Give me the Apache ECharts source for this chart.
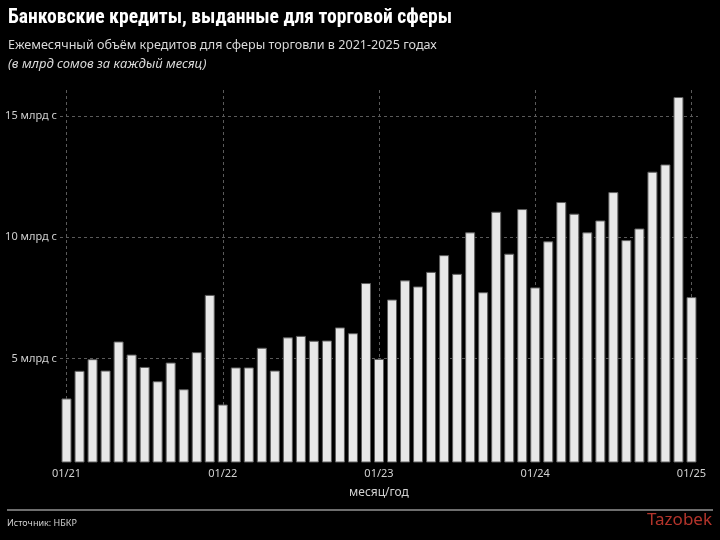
<!DOCTYPE html>
<html>
<head>
<meta charset="utf-8">
<script src="https://cdn.jsdelivr.net/npm/echarts@6/dist/echarts.min.js"></script>
<style>
  html, body { margin: 0; padding: 0; background: #000; }
  #main { width: 720px; height: 540px; }
</style>
</head>
<body>
<div id="main"></div>
<script>
// months, 01/21 .. 01/25
let months = [
  '01/21','02/21','03/21','04/21','05/21','06/21','07/21','08/21','09/21','10/21','11/21','12/21',
  '01/22','02/22','03/22','04/22','05/22','06/22','07/22','08/22','09/22','10/22','11/22','12/22',
  '01/23','02/23','03/23','04/23','05/23','06/23','07/23','08/23','09/23','10/23','11/23','12/23',
  '01/24','02/24','03/24','04/24','05/24','06/24','07/24','08/24','09/24','10/24','11/24','12/24',
  '01/25'
];

// loans, bln som per month
let loans = [
  3.35, 4.49, 4.97, 4.50, 5.70, 5.16, 4.65, 4.06, 4.83, 3.73, 5.26, 7.62,
  3.10, 4.63, 4.63, 5.44, 4.50, 5.87, 5.93, 5.73, 5.74, 6.28, 6.04, 8.11,
  4.98, 7.43, 8.22, 7.97, 8.57, 9.26, 8.49, 10.20, 7.73, 11.05, 9.32, 11.16,
  7.93, 9.83, 11.45, 10.97, 10.20, 10.69, 11.86, 9.88, 10.36, 12.70, 13.00, 15.78,
  7.53
];

let yTicks = [5, 10, 15];

let myChart = echarts.init(document.getElementById('main'));

let option = {
  backgroundColor: '#000',
  animation: false,
  graphic: [
    { type: 'text', left: 8, top: 8,
      style: { text: 'Банковские кредиты, выданные для торговой сферы', fill: '#fff',
        font: 'bold 19.6px "Liberation Sans Narrow", "Roboto Condensed", Roboto, sans-serif' } },
    { type: 'text', left: 8, top: 39,
      style: { text: 'Ежемесячный объём кредитов для сферы торговли в 2021-2025 годах', fill: '#d9d9d9',
        font: '12.6px "Noto Sans", sans-serif' } },
    { type: 'text', left: 8, top: 58,
      style: { text: '(в млрд сомов за каждый месяц)', fill: '#d9d9d9',
        font: 'italic 13px "Noto Sans", sans-serif' } },
    { type: 'rect', left: 7, top: 509, shape: { width: 706, height: 2 },
      style: { fill: '#6e6e6e' } },
    { type: 'text', left: 7, top: 519,
      style: { text: 'Источник: НБКР', fill: '#d0d0d0', font: '9px "Noto Sans", sans-serif' } },
    { type: 'text', right: 8, top: 512,
      style: { text: 'Tazobek', fill: '#b3342b', font: '17px "Noto Sans", sans-serif' } }
  ],
  grid: { left: 60, right: 22, top: 90, bottom: 78 },
  xAxis: {
    type: 'category',
    data: months,
    axisLine: { show: false },
    axisTick: { show: false, alignWithLabel: true, interval: 11 },
    axisLabel: { interval: 11, color: '#d0d0d0', fontSize: 11, margin: 6,
      fontFamily: '"Noto Sans", sans-serif' },
    splitLine: { show: true, interval: 11, alignWithLabel: true,
      lineStyle: { color: '#5a5a5a', type: [3, 3], width: 1 } },
    name: 'месяц/год',
    nameLocation: 'middle',
    nameGap: 25,
    nameTextStyle: { color: '#d0d0d0', fontSize: 12, fontFamily: '"Noto Sans", sans-serif' }
  },
  yAxis: {
    type: 'value',
    min: 0.73,
    max: 16.07,
    axisLine: { show: false },
    axisTick: { show: false, customValues: yTicks },
    axisLabel: { customValues: yTicks, formatter: '{value} млрд с', color: '#d0d0d0',
      fontSize: 11, margin: 3, fontFamily: '"Noto Sans", sans-serif' },
    splitLine: { show: true, lineStyle: { color: '#5a5a5a', type: [3, 3], width: 1 } }
  },
  series: [{
    type: 'bar',
    data: loans,
    barWidth: 10,
    itemStyle: { color: '#e8e8e8', borderColor: '#5e5e5e', borderWidth: 1 }
  }]
};

myChart.setOption(option);
</script>
</body>
</html>
